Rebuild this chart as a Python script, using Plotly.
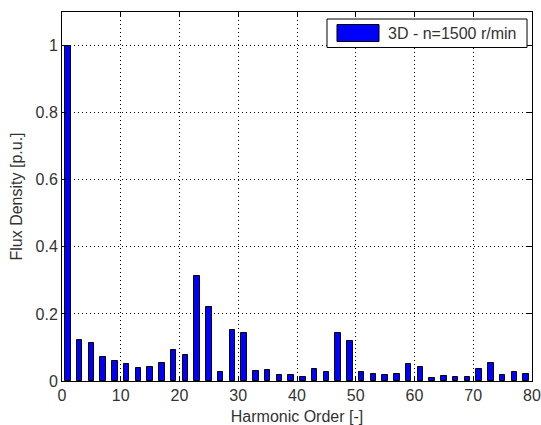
import plotly.graph_objects as go

harmonic_order = list(range(1, 80, 2))
flux_density = [1.0, 0.122, 0.112, 0.073, 0.060, 0.051, 0.038, 0.042, 0.055, 0.092,
                0.079, 0.314, 0.221, 0.026, 0.151, 0.142, 0.029, 0.033, 0.019, 0.019,
                0.012, 0.035, 0.026, 0.142, 0.118, 0.026, 0.022, 0.019, 0.022, 0.051,
                0.042, 0.009, 0.016, 0.012, 0.012, 0.035, 0.055, 0.019, 0.026, 0.022]
series_name = "3D - n=1500 r/min"
x_ticks = [0, 10, 20, 30, 40, 50, 60, 70, 80]
y_ticks = [0, 0.2, 0.4, 0.6, 0.8, 1]
y_tick_labels = ["0", "0.2", "0.4", "0.6", "0.8", "1"]

fig = go.Figure()
fig.add_trace(go.Bar(
    x=harmonic_order, y=flux_density, name=series_name, width=0.9,
    marker=dict(color="#0000FF", line=dict(color="black", width=1)),
    showlegend=False,
))

FAMILY = "Liberation Sans, Arial, sans-serif"
font = dict(family=FAMILY, size=16, color="#333333")
axis_common = dict(
    showline=True, linecolor="black", linewidth=1, mirror="ticks",
    ticks="inside", ticklen=5, tickcolor="black",
    showgrid=True, gridcolor="black", gridwidth=1, griddash="1px,3px",
    zeroline=False, tickfont=font, automargin=False,
)
fig.update_xaxes(range=[0, 80], tickvals=x_ticks,
                 title=dict(text="Harmonic Order [-]", font=font, standoff=7),
                 **axis_common)
fig.update_yaxes(range=[0, 1.1], tickvals=y_ticks, ticktext=y_tick_labels,
                 title=dict(text="Flux Density [p.u.]", font=font, standoff=8),
                 **axis_common)

# MATLAB-style legend box
fig.add_shape(type="rect", xref="paper", yref="paper", x0=0.5638, x1=0.9894, y0=0.9038, y1=0.981,
              line=dict(color="black", width=1), fillcolor="white", layer="above")
fig.add_shape(type="rect", xref="paper", yref="paper", x0=0.5851, x1=0.6745, y0=0.920, y1=0.9661,
              line=dict(color="black", width=1), fillcolor="#0000FF", layer="above")
fig.add_annotation(xref="paper", yref="paper", x=0.6883, y=0.943, xanchor="left", yanchor="middle",
                   text=series_name, showarrow=False, font=dict(family=FAMILY, size=16, color="#333333"))

fig.update_layout(
    width=541, height=425,
    margin=dict(l=62, r=9, t=12, b=44, autoexpand=False),
    paper_bgcolor="white", plot_bgcolor="white",
    bargap=0,
)
fig.write_html("out.html", config={"displayModeBar": False},
               post_script="document.body.style.margin='0';")
